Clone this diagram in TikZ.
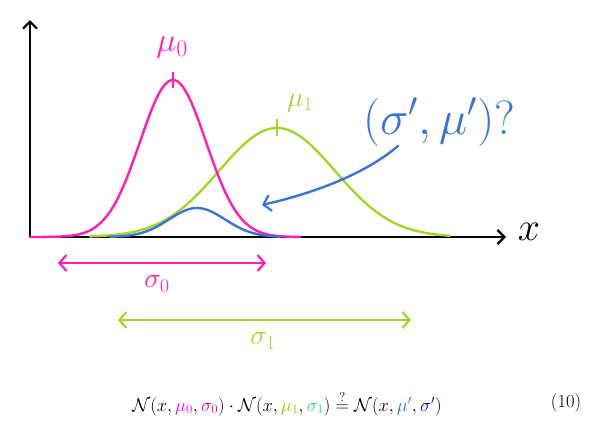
\RequirePackage{fix-cm}
\documentclass[tikz,border=0pt]{standalone}
\usepackage{amsmath}
\usetikzlibrary{arrows.meta}
\definecolor{pinkc}{HTML}{FF1FB4}
\definecolor{greenc}{HTML}{A2D729}
\definecolor{bluec}{HTML}{3A74D6}
\definecolor{mzero}{HTML}{FF00FF}
\definecolor{szero}{HTML}{FF0080}
\definecolor{mone}{HTML}{99CC00}
\definecolor{sone}{HTML}{33CC99}
\definecolor{mp}{HTML}{3366FF}
\definecolor{sp}{HTML}{0000CC}
\tikzset{
  curve/.style={line width=2.4pt, line join=round, line cap=round},
  axis/.style={line width=2.4pt, line cap=round, -{Straight Barb[length=7pt,width=14pt,line width=2.2pt]}},
  span/.style={line width=2.4pt, line cap=round, {Straight Barb[length=7pt,width=16pt,line width=2.2pt]}-{Straight Barb[length=7pt,width=16pt,line width=2.2pt]}},
  hand/.style={font=\fontsize{34}{36}\selectfont},
  handsmall/.style={font=\fontsize{28}{30}\selectfont},
  tick/.style={line width=1.8pt},
  eqfont/.style={font=\fontsize{18.5}{22}\selectfont}
}
\begin{document}
\begin{tikzpicture}[x=1pt,y=-1pt]
\useasboundingbox (0,0) rectangle (609,432);
% axes
\coordinate (O) at (30,237);
\coordinate (Ytop) at (30,20);
\coordinate (Xend) at (506,237);
\draw[axis] (O) -- (Ytop);
\draw[axis] (O) -- (Xend);
\node[font=\fontsize{40}{42}\selectfont] (xl) at (529,232) {$x$};
% gaussians
\draw[curve, greenc] plot[domain=90:450, samples=140] (\x,{237-109*exp(-0.5*((\x-277)/58)^2)});
\draw[curve, pinkc] plot[domain=30:300, samples=140] (\x,{237-157*exp(-0.5*((\x-173)/33)^2)});
\draw[curve, bluec] plot[domain=110:280, samples=100] (\x,{237-29*exp(-0.5*((\x-197)/28)^2)});
% ticks
\coordinate (m0) at (173,80);
\coordinate (m1) at (277,128);
\draw[tick, pinkc] ([yshift=-8pt]m0) -- ([yshift=8pt]m0);
\draw[tick, greenc] ([yshift=-8pt]m1) -- ([yshift=9pt]m1);
\node[hand, pinkc] (lm0) at (172,47) {$\mu_0$};
\node[handsmall, greenc] (lm1) at (300,103) {$\mu_1$};
% question
\node[bluec, font=\fontsize{48}{50}\selectfont] (q) at (439,122) {$(\sigma',\mu')?$};
\coordinate (qa) at (398,146);
\coordinate (qb) at (262,205);
\draw[line width=2.4pt, line cap=round, bluec, -{Straight Barb[length=7pt,width=16pt,line width=2.2pt]}] (qa) .. controls (360,178) and (305,195) .. (qb);
% spans
\coordinate (s0a) at (58,263);
\coordinate (s0b) at (266,263);
\coordinate (s1a) at (118,320);
\coordinate (s1b) at (411,320);
\draw[span, pinkc] (s0a) -- (s0b);
\draw[span, greenc] (s1a) -- (s1b);
\node[handsmall, pinkc] (ls0) at (157,284) {$\sigma_0$};
\node[handsmall, greenc] (ls1) at (263,341) {$\sigma_1$};
% equation
\node[eqfont] (eq) at (287,403) {$\mathcal{N}(x,\textcolor{mzero}{\mu_{\mathrm{0}}},\textcolor{szero}{\sigma_{\mathrm{0}}})\cdot\mathcal{N}(x,\textcolor{mone}{\mu_{\mathrm{1}}},\textcolor{sone}{\sigma_{\mathrm{1}}})\stackrel{?}{=}\mathcal{N}(x,\textcolor{mp}{\mu'},\textcolor{sp}{\sigma'})$};
\node[eqfont] (num) at (566,403) {(10)};
\end{tikzpicture}
\end{document}
